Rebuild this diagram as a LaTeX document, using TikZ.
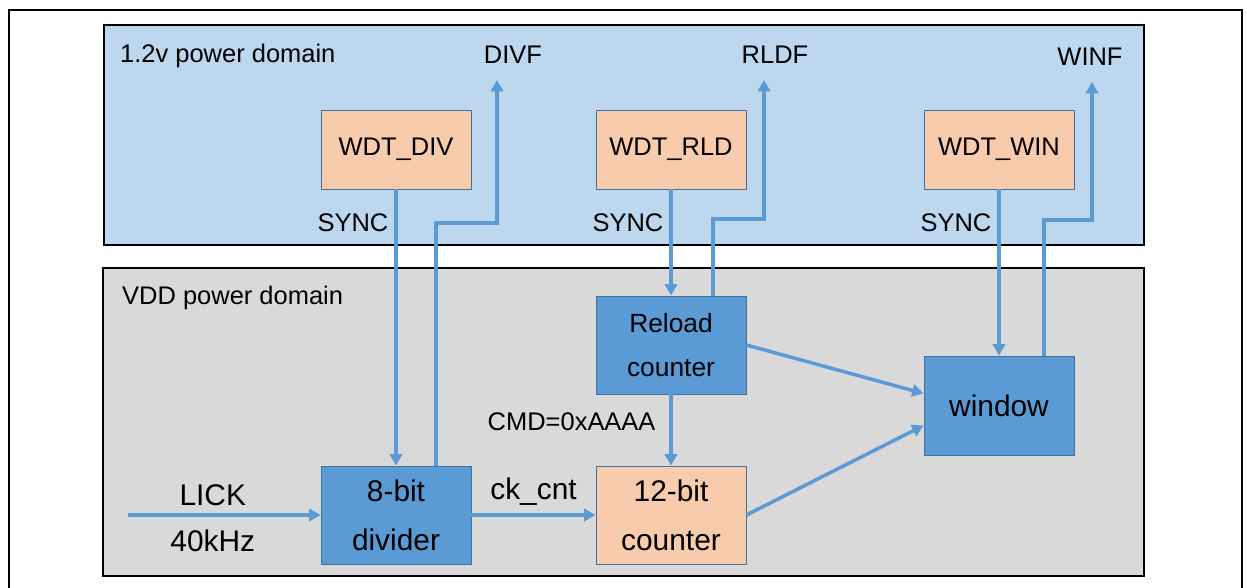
\documentclass[tikz,border=0pt]{standalone}
\usepackage{fontspec}
\setmainfont{Liberation Sans}
\usetikzlibrary{arrows.meta,calc}

\definecolor{domainblue}{HTML}{BDD7EE}
\definecolor{domaingray}{HTML}{D9D9D9}
\definecolor{boxblue}{HTML}{5B9BD5}
\definecolor{boxedge}{HTML}{41719C}
\definecolor{peach}{HTML}{F8CBAD}
\definecolor{wire}{HTML}{5B9BD5}

\begin{document}
\begin{tikzpicture}[x=0.02cm, y=-0.02cm,
  pwr area/.style={draw=black, line width=1pt},
  reg box/.style={draw=boxedge, line width=0.5pt, fill=peach, minimum width=3cm, minimum height=1.58cm, inner sep=0pt, font=\fontsize{14.5}{17}\selectfont},
  blk box/.style={draw=boxedge, line width=0.5pt, fill=boxblue, minimum width=3cm, minimum height=1.96cm, inner sep=0pt, align=center, font=\fontsize{17}{28}\selectfont},
  cnt box/.style={blk box, fill=peach},
  sig/.style={line width=2pt, -{Triangle[length=6.5pt, width=7pt]}, every edge/.append style={draw=wire}},
  lbl/.style={font=\fontsize{14.5}{17}\selectfont},
  big lbl/.style={font=\fontsize{17}{20}\selectfont}]

\useasboundingbox (0,0) rectangle (1247,588);
\draw[line width=1.1pt] (9,600) -- (9,10) -- (1242,10) -- (1242,600);

\draw[pwr area, fill=domainblue] (104,25) rectangle (1144,245);
\draw[pwr area, fill=domaingray] (103,268) rectangle (1144,576);
\node[lbl, anchor=west] (hv)  at (114,56)  {1.2v power domain};
\node[lbl, anchor=west] (vdd) at (116,298) {VDD power domain};

\node[reg box] (wdtdiv) at (396,149.5) {WDT\_DIV};
\node[reg box] (wdtrld) at (671,149.5) {WDT\_RLD};
\node[reg box] (wdtwin) at (999,149.5) {WDT\_WIN};

\node[blk box]  (div)    at (396,515)   {8-bit\\divider};
\node[blk box, font=\fontsize{15}{25.5}\selectfont] (reload) at (671,345) {Reload\\counter};
\node[cnt box]  (cnt)    at (671,515)   {12-bit\\counter};
\node[blk box, minimum height=1.98cm] (win) at (999,405.5) {window};

\coordinate (lick) at (128,515);
\coordinate (divf) at (497,80);
\coordinate (rldf) at (764,80);
\coordinate (winf) at (1092,82);
\node[lbl] (divf lbl) at (513,55) {DIVF};
\node[lbl] (rldf lbl) at (775,55) {RLDF};
\node[lbl] (winf lbl) at (1090,57) {WINF};

\path[sig]
(wdtdiv) edge node[lbl, left, pos=0.12] {SYNC} (div)
(wdtrld) edge node[lbl, left, pos=0.31] {SYNC} (reload)
(wdtwin) edge node[lbl, left, pos=0.2]  {SYNC} (win)
(reload) edge node[lbl, left=4.5pt, pos=0.39] {CMD=0xAAAA} (cnt)
(lick)   edge node[big lbl, above=1pt, pos=0.44] {LICK}
              node[big lbl, below=4pt, pos=0.44] {40kHz} (div)
(div)    edge node[big lbl, above=1pt] {ck\_cnt} (cnt)
(reload.east) edge ($(win.west)+(0,-12)$)
(cnt.east)    edge ($(win.west)+(0,20)$)
;

\draw[sig, draw=wire] ($(div.north)+(40,0)$)    |- ($(divf)+(0,143)$) -- (divf);
\draw[sig, draw=wire] ($(reload.north)+(42,0)$) |- ($(rldf)+(0,139)$) -- (rldf);
\draw[sig, draw=wire] ($(win.north)+(45,0)$)    |- ($(winf)+(0,138)$) -- (winf);
\end{tikzpicture}
\end{document}
